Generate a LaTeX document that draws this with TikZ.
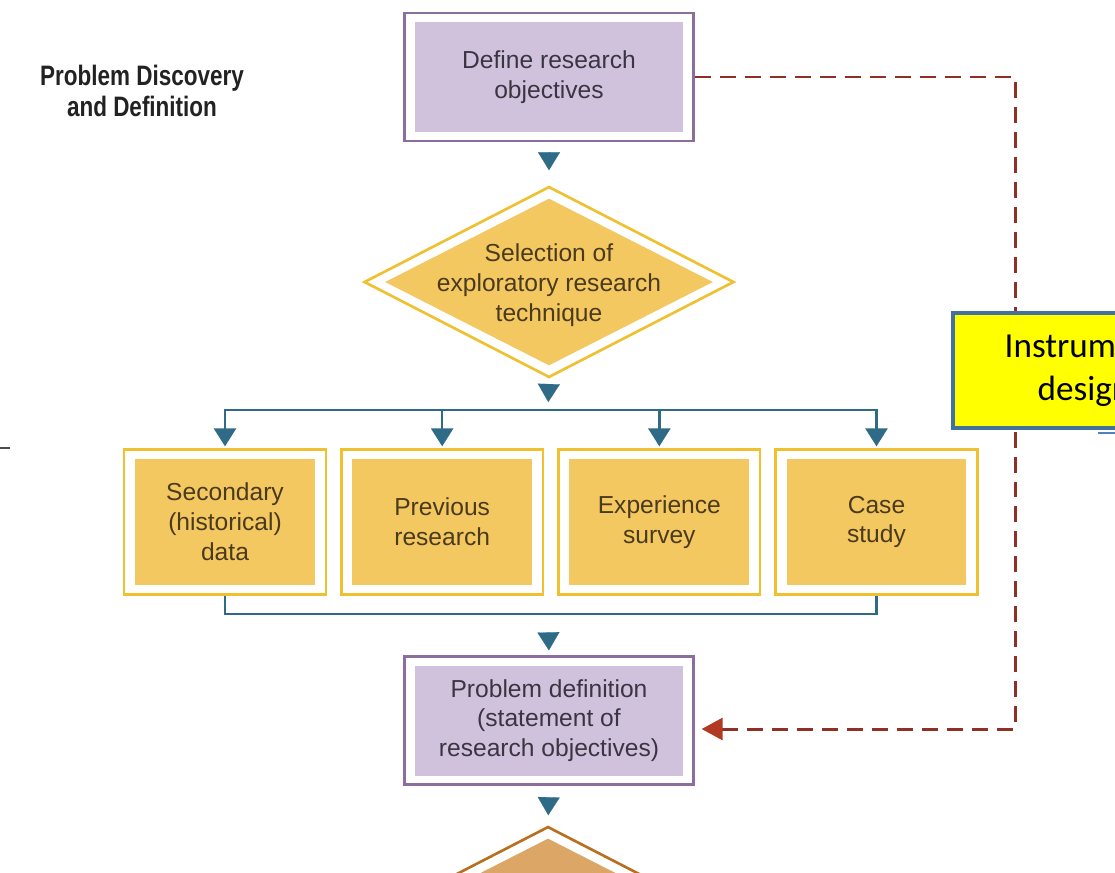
\documentclass[tikz,border=0pt]{standalone}
\usepackage{fontspec}
\setmainfont{Liberation Sans}
\newfontfamily\headfont{Liberation Sans}[FakeStretch=0.8]
\newfontfamily\calloutfont{Carlito}
\usetikzlibrary{arrows.meta,positioning,fit,shapes.geometric}
\definecolor{lavfill}{HTML}{D0C2DD}
\definecolor{lavline}{HTML}{8C6E9E}
\definecolor{goldfill}{HTML}{F4C860}
\definecolor{goldline}{HTML}{EFC030}
\definecolor{tanfill}{HTML}{DCA766}
\definecolor{tanline}{HTML}{B8701E}
\definecolor{flowblue}{HTML}{2F6B86}
\definecolor{fbred}{HTML}{8E3025}
\definecolor{fbtip}{HTML}{B03A22}
\definecolor{inkgray}{HTML}{3B3542}
\definecolor{inkbrown}{HTML}{4A3A1E}
\definecolor{titleink}{HTML}{222222}
\definecolor{callyellow}{HTML}{FFFF00}
\definecolor{callline}{HTML}{41719C}
\definecolor{slideblue}{HTML}{4F81BD}
\tikzset{
  stepbox/.style={fill=lavfill, text=inkgray, align=center, minimum width=5.36cm, minimum height=2.2cm, inner sep=0pt, font=\fontsize{14}{17}\selectfont},
  methodbox/.style={fill=goldfill, text=inkbrown, align=center, minimum width=3.6cm, minimum height=2.52cm, inner sep=0pt, font=\fontsize{14}{17}\selectfont},
  stepframe/.style={draw=lavline, line width=1.5pt, inner xsep=0.2cm, inner ysep=0.17cm},
  methodframe/.style={draw=goldline, line width=1.5pt, inner xsep=0.21cm, inner ysep=0.18cm},
  decframe/.style={diamond, draw=goldline, fill=white, line width=1.5pt, inner sep=0pt, minimum width=7.4cm, minimum height=3.82cm},
  decision/.style={diamond, fill=goldfill, inner sep=0pt, minimum width=6.56cm, minimum height=3.34cm},
  dectext/.style={text=inkbrown, align=center, font=\fontsize{14}{17}\selectfont},
  tip/.style={-{Triangle[length=0.36cm, width=0.44cm]}, draw=flowblue, line width=0.1pt},
  flow/.style={-{Triangle[length=0.36cm, width=0.44cm]}, draw=flowblue, line width=1.5pt},
  feedback/.style={-{Triangle[length=0.42cm, width=0.44cm, color=fbtip]}, draw=fbred, line width=1.7pt, dash pattern=on 0.32cm off 0.18cm},
  callout/.style={draw=callline, line width=2.2pt, fill=callyellow, align=center, minimum width=5.24cm, minimum height=2.3cm, font=\calloutfont\fontsize{20}{24.4}\selectfont}
}
\begin{document}
\begin{tikzpicture}[x=0.02cm, y=-0.02cm]
  \useasboundingbox (0,0) rectangle (1115,872);
  \fill[white] (0,0) rectangle (1115,872);
  \clip (0,0) rectangle (1115,872);

  \node[font=\headfont\bfseries\fontsize{16}{17.6}\selectfont, text=titleink, align=center] (phase) at (142,91) {Problem Discovery\\and Definition};

  % define and select
  \node[stepbox] (def) at (549,77) {Define research\\objectives};
  \node[stepframe, fit=(def)] (defframe) {};
  \node[decframe] (selframe) at (549,282) {};
  \node[decision, label={[dectext, yshift=-0.06cm]center:Selection of\\exploratory research\\technique}] (sel) at (549,282) {};

  % exploratory techniques
  \node[methodbox] (sec) at (225,522) {Secondary\\(historical)\\data};
  \node[methodbox, right=0.73cm of sec] (prev) {Previous\\research};
  \node[methodbox, right=0.73cm of prev] (exp) {Experience\\survey};
  \node[methodbox, right=0.73cm of exp] (case) {Case\\study};
  \foreach \m in {sec,prev,exp,case}
    \node[methodframe, fit=(\m)] (frame-\m) {};

  % problem definition
  \node[stepbox] (prob) at (549,720.5) {Problem definition\\(statement of\\research objectives)};
  \node[stepframe, fit=(prob)] (frame-prob) {};
  \node[decframe, draw=tanline] (nextframe) at (548,922) {};
  \node[decision, fill=tanfill] (next) at (548,922) {};

  \coordinate (split) at (548,410);
  \coordinate (merge) at (548,614);
  \draw[tip, shorten <=0.26cm, shorten >=0.3cm] (defframe.south) -- (selframe.north);
  \draw[tip, shorten <=0.1cm, shorten >=0.16cm] (selframe.south) -- (split);
  \foreach \m in {sec,prev,exp,case}
    \draw[flow, shorten >=0.04cm] (split) -| (frame-\m.north);
  \draw[flow, -] (frame-sec.south) |- (merge) -| (frame-case.south);
  \draw[tip, shorten <=0.36cm, shorten >=0.1cm] (merge) -- (frame-prob.north);
  \draw[tip, shorten <=0.28cm, shorten >=0.2cm] (frame-prob.south) -- (nextframe.north);

  % feedback loop
  \coordinate (fbx) at (1015,729);
  \coordinate (fbin) at ([yshift=-0.17cm]frame-prob.east);
  \draw[feedback, shorten >=0.14cm] (defframe.east) -| (fbx) |- (fbin);

  \node[callout] (instr) at (1084,370.5) {Instrument\\design};
  \draw[slideblue, line width=1.3pt] (1098,433) -- (1125,433);
  \draw[black!70, line width=1.1pt] (-5,448) -- (10,448);
\end{tikzpicture}
\end{document}
